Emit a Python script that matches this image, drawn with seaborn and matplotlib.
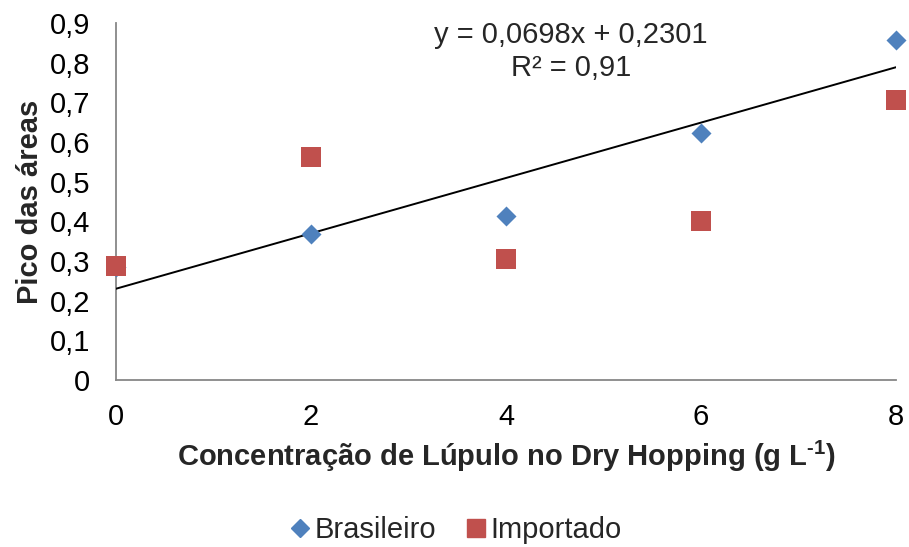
import matplotlib
matplotlib.use("Agg")
import matplotlib.pyplot as plt
import seaborn as sns
import pandas as pd
import numpy as np
from matplotlib.lines import Line2D

concentracao = [0, 2, 4, 6, 8]
brasileiro = [0.286, 0.367, 0.413, 0.623, 0.857]
importado = [0.287, 0.562, 0.305, 0.401, 0.706]
slope, intercept = 0.0698, 0.2301
yticks = [0, 0.1, 0.2, 0.3, 0.4, 0.5, 0.6, 0.7, 0.8, 0.9]
xticks = [0, 2, 4, 6, 8]

sns.set_style("white")
plt.rcParams['font.family'] = ['Liberation Sans', 'DejaVu Sans']
plt.rcParams['mathtext.fontset'] = 'custom'
plt.rcParams['mathtext.rm'] = 'Liberation Sans'
plt.rcParams['mathtext.bf'] = 'Liberation Sans:bold'

df_b = pd.DataFrame({"x": concentracao, "y": brasileiro})
df_i = pd.DataFrame({"x": concentracao, "y": importado})

FS = 21
fig = plt.figure(figsize=(9.09, 5.47), dpi=100)
ax = fig.add_axes([116/909, 1 - 380/547, (896-116)/909, (380-23)/547])

xs = np.array([0, 8])
ax.plot(xs, slope * xs + intercept, color="black", lw=1.4, zorder=3)

sns.scatterplot(data=df_b, x="x", y="y", color="#4F81BD", marker="D",
                s=104, linewidth=0, ax=ax, zorder=4, clip_on=False, legend=False)
sns.scatterplot(data=df_i, x="x", y="y", color="#C0504D", marker="s",
                s=205, linewidth=0, ax=ax, zorder=5, clip_on=False, legend=False)

ax.set_xlim(0, 8)
ax.set_ylim(0, 0.9)
ax.set_xticks(xticks)
ax.set_yticks(yticks)
ax.set_xticklabels([str(v) for v in xticks])
ax.set_yticklabels([("%g" % v).replace(".", ",") for v in yticks])
for sp in ["top", "right"]:
    ax.spines[sp].set_visible(False)
for sp in ["left", "bottom"]:
    ax.spines[sp].set_color("#878787")
    ax.spines[sp].set_linewidth(1.3)
ax.tick_params(axis="both", direction="out", length=6.5, width=1.3, color="#878787",
               labelsize=FS, labelcolor="black")
ax.tick_params(axis="x", pad=10)
ax.tick_params(axis="y", pad=12)

ax.set_xlabel("Concentração de Lúpulo no Dry Hopping (g L$^{\\mathbf{\u2010 1}}$)",
              fontsize=FS, fontweight="bold", labelpad=6)
ax.set_ylabel("Pico das áreas", fontsize=FS, fontweight="bold", labelpad=4)

ax.text(0.583, 1.005, "y = 0,0698x + 0,2301\nR² = 0,91", transform=ax.transAxes,
        ha="center", va="top", fontsize=FS, linespacing=1.2)

handles = [Line2D([], [], marker="D", color="#4F81BD", ls="none", markersize=9),
           Line2D([], [], marker="s", color="#C0504D", ls="none", markersize=12.5)]
fig.legend(handles, ["Brasileiro", "Importado"], loc="center", bbox_to_anchor=(0.499, 1 - 530/547),
           ncol=2, frameon=False, fontsize=FS, handletextpad=0.0, columnspacing=0.85,
           handlelength=1.0)

fig.savefig("out.png", dpi=100)
